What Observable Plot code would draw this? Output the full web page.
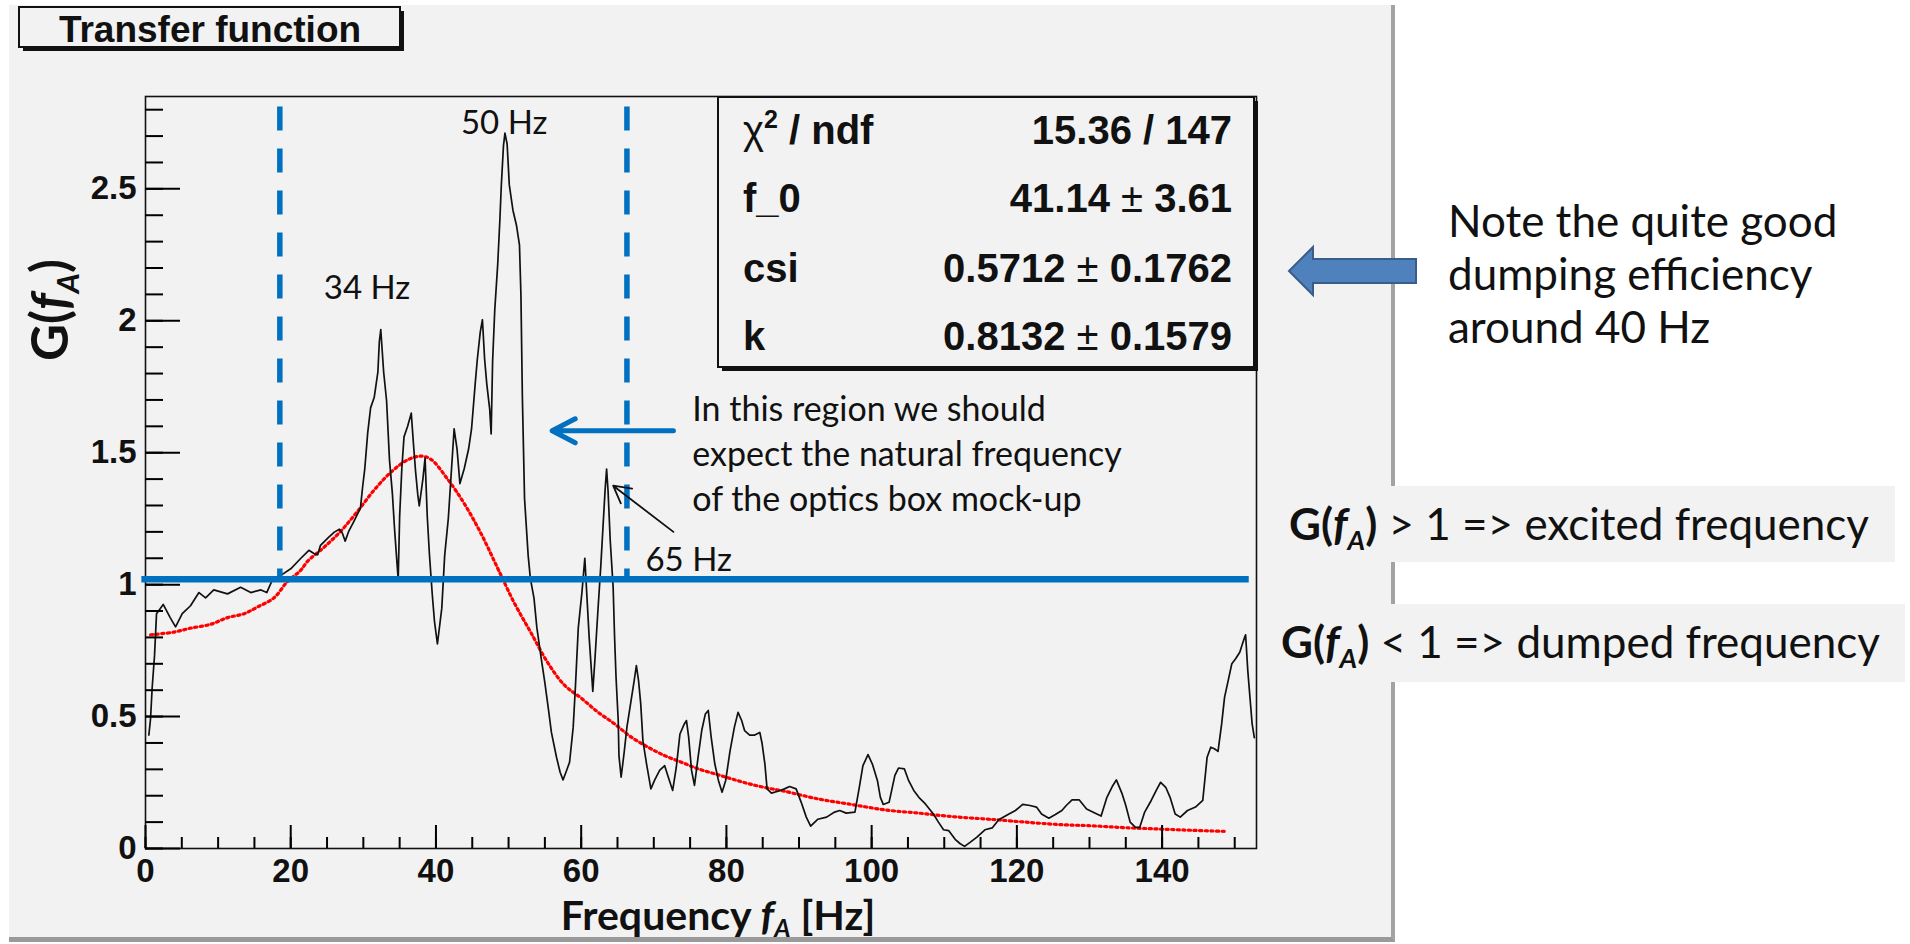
<!DOCTYPE html>
<html><head><meta charset="utf-8">
<script src="https://cdn.jsdelivr.net/npm/d3@7"></script>
<script src="https://cdn.jsdelivr.net/npm/@observablehq/plot@0.6"></script>
<style>
html,body{margin:0;padding:0;background:#fff;}
#wrap{position:relative;width:1910px;height:944px;overflow:hidden;background:#fff;}
#canvas{position:absolute;left:9px;top:5px;width:1382px;height:932px;background:#f2f2f2;border-right:4px solid #a3a3a3;border-bottom:5px solid #9a9a9a;}
#chart{position:absolute;left:0;top:0;}
#over{position:absolute;left:0;top:0;pointer-events:none;}
</style></head>
<body>
<div id="wrap"><div id="canvas"></div><div id="chart"></div><svg id="over" width="1910" height="944"></svg></div>
<script>
// ---- measured transfer function G(f_A) ----
const freq = [0.46,0.69,0.92,1.24,1.52,2.44,3.4,4.14,5.06,6.2,7.36,8.28,9.4,11.3,13.1,14.5,15.9,16.7,17.5,18.9,20.0,21.4,22.5,23.2,23.7,24.1,25.1,26.0,26.7,27.1,27.5,28.0,28.7,29.6,29.9,30.2,30.6,31.0,31.5,32.0,32.2,32.4,32.8,33.2,33.6,34.0,34.3,34.6,34.8,35.0,35.3,35.6,36.1,36.6,36.9,37.2,37.5,37.7,38.2,38.5,38.8,39.1,39.5,39.8,40.2,40.8,41.2,41.7,42.1,42.5,42.9,43.3,43.9,44.5,44.9,45.4,45.7,46.1,46.4,46.7,47.0,47.4,47.6,47.8,48.1,48.5,48.8,49.0,49.3,49.5,49.8,50.1,50.6,51.1,51.5,51.7,51.9,52.2,52.7,53.0,53.5,53.9,54.5,55.0,55.5,55.9,56.6,57.1,57.5,57.9,58.4,58.9,59.2,59.6,60.1,60.5,60.8,61.1,61.6,61.9,62.3,62.7,63.0,63.3,63.5,63.7,64.0,64.4,64.6,64.8,65.1,65.2,65.5,65.9,66.3,66.8,67.3,67.6,67.9,68.2,68.5,69.0,69.6,70.1,70.8,71.5,72.0,72.6,73.1,73.6,74.2,74.5,74.8,75.2,75.6,76.1,76.6,77.1,77.5,77.9,78.4,78.9,79.4,79.9,80.5,81.1,81.6,82.1,82.5,83.2,83.9,84.6,84.9,85.3,85.6,86.2,87.1,88.0,88.7,89.6,90.3,91.0,91.6,92.6,93.8,94.9,95.6,96.5,97.7,98.3,98.8,99.5,100.1,100.8,101.2,101.6,102.4,102.8,103.2,103.7,104.5,105.1,105.8,106.5,107.4,108.5,109.2,109.9,110.6,111.5,112.2,112.8,113.6,114.5,115.6,116.6,117.5,118.6,119.8,120.8,121.8,122.7,123.4,124.4,125.3,126.2,126.8,127.6,128.6,129.6,130.8,131.6,132.4,133.2,133.7,134.5,135.0,135.6,136.3,136.9,137.6,138.5,139.3,139.8,140.5,141.1,141.8,142.5,143.5,144.6,145.6,146.2,146.7,147.2,147.7,148.2,148.6,149.1,149.6,150.1,150.7,151.0,151.4,151.5,151.8,152.1,152.4,152.7];
const gain = [0.43,0.49,0.61,0.73,0.89,0.925,0.875,0.84,0.89,0.92,0.97,0.95,0.98,0.965,0.99,0.97,0.98,0.97,1.02,1.04,1.06,1.10,1.13,1.118,1.113,1.149,1.176,1.199,1.21,1.196,1.165,1.203,1.24,1.29,1.37,1.44,1.575,1.67,1.71,1.805,1.92,1.967,1.805,1.697,1.473,1.345,1.21,1.095,1.02,1.26,1.44,1.56,1.60,1.65,1.534,1.427,1.34,1.298,1.40,1.48,1.26,1.115,0.96,0.86,0.775,0.91,1.11,1.25,1.42,1.59,1.515,1.383,1.44,1.515,1.59,1.76,1.855,1.957,2.004,1.855,1.76,1.665,1.571,1.845,2.042,2.212,2.381,2.513,2.664,2.711,2.67,2.515,2.419,2.36,2.288,2.1,1.712,1.326,1.11,1.024,0.949,0.836,0.72,0.628,0.525,0.44,0.346,0.289,0.26,0.289,0.327,0.46,0.61,0.836,0.97,1.10,0.95,0.80,0.595,0.72,0.90,1.07,1.217,1.362,1.438,1.355,1.167,0.99,0.80,0.649,0.485,0.352,0.27,0.36,0.46,0.548,0.636,0.693,0.636,0.548,0.409,0.321,0.226,0.258,0.296,0.314,0.27,0.22,0.308,0.434,0.472,0.485,0.422,0.296,0.239,0.346,0.447,0.51,0.523,0.422,0.321,0.258,0.213,0.258,0.37,0.46,0.516,0.485,0.447,0.43,0.43,0.44,0.40,0.32,0.226,0.21,0.217,0.226,0.235,0.226,0.175,0.119,0.085,0.111,0.119,0.138,0.144,0.134,0.138,0.232,0.314,0.356,0.32,0.257,0.194,0.167,0.175,0.226,0.277,0.305,0.302,0.257,0.22,0.194,0.169,0.131,0.10,0.071,0.068,0.035,0.018,0.008,0.024,0.043,0.071,0.078,0.109,0.126,0.144,0.167,0.163,0.157,0.131,0.115,0.129,0.144,0.163,0.184,0.184,0.15,0.134,0.123,0.194,0.238,0.26,0.207,0.163,0.10,0.081,0.079,0.138,0.182,0.226,0.251,0.232,0.194,0.131,0.119,0.144,0.157,0.182,0.346,0.384,0.378,0.368,0.472,0.573,0.636,0.70,0.718,0.744,0.77,0.803,0.81,0.674,0.573,0.472,0.42];
// ---- fitted curve ----
const fitFreq = [0.7,3.9,6.2,9.0,11.3,13.6,15.4,17.7,19.5,21.4,22.3,24.6,26.9,29.2,31.5,33.8,36.1,37.9,39.3,41.6,43.9,46.2,48.5,50.8,53.1,55.4,57.7,60.0,62.3,64.6,66.9,69.2,71.5,73.8,76.1,78.4,80.7,83.0,85.5,88.0,92.6,97.2,101.9,106.5,111.0,115.6,117.6,121.1,125.7,130.3,134.9,139.5,144.1,148.7];
const fitGain = [0.81,0.82,0.835,0.85,0.875,0.89,0.915,0.95,1.01,1.055,1.088,1.142,1.203,1.278,1.359,1.426,1.473,1.487,1.475,1.40,1.307,1.194,1.062,0.93,0.817,0.704,0.619,0.57,0.517,0.472,0.422,0.384,0.352,0.327,0.302,0.283,0.264,0.246,0.23,0.217,0.188,0.167,0.146,0.134,0.121,0.112,0.108,0.10,0.091,0.086,0.079,0.074,0.069,0.065];
// ---- axes ----
const xMajor = [0,20,40,60,80,100,120,140];
const xMinor = [0,5,10,15,20,25,30,35,40,45,50,55,60,65,70,75,80,85,90,95,100,105,110,115,120,125,130,135,140,145,150];
const yMajor = [0,0.5,1,1.5,2,2.5];
const yLabels = ["0","0.5","1","1.5","2","2.5"];
const yMinor = [0,0.1,0.2,0.3,0.4,0.5,0.6,0.7,0.8,0.9,1,1.1,1.2,1.3,1.4,1.5,1.6,1.7,1.8,1.9,2,2.1,2.2,2.3,2.4,2.5,2.6,2.7,2.8];
// ---- annotations ----
const regionBounds = [18.5, 66.3];
const regionTop = 2.81;
const threshold = 1.02;
const peakLabels = [{f:30.5,g:2.083,text:"34 Hz"},{f:49.4,g:2.708,text:"50 Hz"},{f:74.8,g:1.053,text:"65 Hz"}];
const regionNote = [{f:75.3,g:1.28,text:"In this region we should\nexpect the natural frequency\nof the optics box mock-up"}];
const blueArrow = [{x1:72.7,y1:1.583,x2:56.0,y2:1.583}];
const blackArrow = [{x1:72.7,y1:1.20,x2:64.4,y2:1.375}];
const statsRows = [["χ","15.36 / 147"],["f_0","41.14","3.61"],["csi","0.5712","0.1762"],["k","0.8132","0.1579"]];

const data = freq.map((f,i)=>({f, g:gain[i]}));
const fit = fitFreq.map((f,i)=>({f, g:fitGain[i]}));

const plot = Plot.plot({
  width:1910, height:944,
  marginLeft:145, marginRight:654, marginTop:96, marginBottom:96,
  x:{domain:[0,153]}, y:{domain:[0,2.85]},
  style:{background:"transparent", fontFamily:"'Liberation Sans', Arial, sans-serif", overflow:"visible"},
  marks:[
    Plot.line(fit, {x:"f", y:"g", stroke:"#ff0000", strokeWidth:3.2, strokeDasharray:"2.2 3.4", curve:"catmull-rom"}),
    Plot.line(data, {x:"f", y:"g", stroke:"#111", strokeWidth:1.7}),
    Plot.frame({stroke:"#111", strokeWidth:1.6}),
    Plot.axisX({ticks:xMinor, tickSize:-11, tickFormat:()=>"", label:null, strokeWidth:2}),
    Plot.axisX({ticks:xMajor, tickSize:-23, tickFormat:()=>"", label:null, strokeWidth:2}),
    Plot.axisX({ticks:xMajor, tickSize:0, tickPadding:10, label:null, fontSize:33, fontWeight:"bold", fill:"#111"}),
    Plot.axisY({ticks:yMinor, tickSize:-18, tickFormat:()=>"", label:null, strokeWidth:2}),
    Plot.axisY({ticks:yMajor, tickSize:-35, tickFormat:()=>"", label:null, strokeWidth:2}),
    Plot.axisY({ticks:yMajor, tickSize:0, tickPadding:9, label:null, tickFormat:d=>yLabels[yMajor.indexOf(d)], fontSize:33, fontWeight:"bold", fill:"#111"}),
    Plot.ruleX(regionBounds, {x:d=>d, y1:regionTop, y2:threshold, stroke:"#0070C0", strokeWidth:5.5, strokeDasharray:"24 18"}),
    Plot.ruleY([threshold], {y:d=>d, x1:-0.5, x2:152, stroke:"#0070C0", strokeWidth:6.5}),
    Plot.arrow(blueArrow, {x1:"x1", y1:"y1", x2:"x2", y2:"y2", stroke:"#0070C0", strokeWidth:5, headLength:7.8, headAngle:55}),
    Plot.arrow(blackArrow, {x1:"x1", y1:"y1", x2:"x2", y2:"y2", stroke:"#111", strokeWidth:1.8, headLength:16, headAngle:58}),
    Plot.text(peakLabels, {x:"f", y:"g", text:"text", fontSize:33, fontFamily:"Lato", lineAnchor:"bottom", textAnchor:"middle", fill:"#111"}),
    Plot.text(regionNote, {x:"f", y:"g", text:"text", fontSize:34, fontFamily:"Lato", lineAnchor:"bottom", textAnchor:"start", lineHeight:45/34, fill:"#111"})
  ]
});
document.getElementById("chart").appendChild(plot);

// ---- overlay: title, stats box, axis titles, side notes ----
const svg = d3.select("#over");
function rich(x, y, parts, base, transform) {
  const t = svg.append("text").attr("x", x).attr("y", y).style("white-space","pre");
  if (transform) t.attr("transform", transform);
  for (const [k,v] of Object.entries(base)) t.attr(k, v);
  let shift = 0;
  for (const p of parts) {
    const ts = t.append("tspan").text(p.t);
    const s = p.shift || 0;
    if (s !== shift) { ts.attr("dy", s - shift); shift = s; }
    if (p.w) ts.attr("font-weight", p.w);
    if (p.i) ts.attr("font-style", "italic");
    if (p.size) ts.attr("font-size", p.size);
  }
  return t;
}
const ROOT = "'Liberation Sans', Arial, sans-serif";
// title box
svg.append("rect").attr("x",23).attr("y",11).attr("width",381).attr("height",40).attr("fill","#111");
svg.append("rect").attr("x",19).attr("y",7).attr("width",381).attr("height",40).attr("fill","#f2f2f2").attr("stroke","#111").attr("stroke-width",2);
svg.append("text").attr("x",210).attr("y",42).attr("text-anchor","middle").attr("font-family",ROOT).attr("font-weight","bold").attr("font-size",37).attr("fill","#111").text("Transfer function");
// stats box
svg.append("rect").attr("x",722).attr("y",101).attr("width",536).attr("height",270).attr("fill","#111");
svg.append("rect").attr("x",718).attr("y",97).attr("width",536).attr("height",270).attr("fill","#f2f2f2").attr("stroke","#111").attr("stroke-width",2);
const rowY = [144,212,282,350];
const sbase = {"font-family":ROOT, "font-weight":"bold", "font-size":40, fill:"#111"};
statsRows.forEach((r,i)=>{
  if (i===0) rich(743,rowY[i],[{t:"χ",w:"normal"},{t:"2",size:25,shift:-16},{t:" / ndf",shift:0}],sbase);
  else rich(743,rowY[i],[{t:r[0]}],sbase);
  const parts = r.length===2 ? [{t:r[1]}] : [{t:r[1]+" "},{t:"±",w:"normal"},{t:" "+r[2]}];
  rich(1232,rowY[i],parts,{...sbase,"text-anchor":"end"});
});
// axis titles
const CAL = "Lato, 'Open Sans', sans-serif";
rich(718,930,[{t:"Frequency "},{t:"f",i:true},{t:"A",i:true,size:25,shift:7},{t:" [Hz]",shift:0}],{"font-family":CAL,"font-weight":"bold","font-size":41,"text-anchor":"middle",fill:"#111"});
rich(0,0,[{t:"G("},{t:"f",i:true},{t:"A",i:true,size:31,shift:11},{t:")",shift:0}],{"font-family":CAL,"font-weight":"bold","font-size":51,"text-anchor":"middle",fill:"#111"},"translate(68,310) rotate(-90)");
// side note + block arrow
svg.append("polygon").attr("points","1289,271 1313,247 1313,259 1416,259 1416,283 1313,283 1313,295").attr("fill","#4F81BD").attr("stroke","#385D8A").attr("stroke-width",2);
const note = ["Note the quite good","dumping efficiency","around 40 Hz"];
note.forEach((s,i)=>svg.append("text").attr("x",1448).attr("y",237+i*53).attr("font-family",CAL).attr("font-size",44).attr("fill","#111").text(s));
// threshold boxes
svg.append("rect").attr("x",1268).attr("y",486).attr("width",627).attr("height",76).attr("fill","#f2f2f2");
svg.append("rect").attr("x",1262).attr("y",604).attr("width",643).attr("height",78).attr("fill","#f2f2f2");
const bb = {"font-family":CAL,"font-size":44,fill:"#111"};
rich(1289,540,[{t:"G(",w:"bold"},{t:"f",w:"bold",i:true},{t:"A",w:"bold",i:true,size:27,shift:10},{t:")",w:"bold",shift:0},{t:" > 1 => excited frequency"}],bb);
rich(1281,658,[{t:"G(",w:"bold"},{t:"f",w:"bold",i:true},{t:"A",w:"bold",i:true,size:27,shift:10},{t:")",w:"bold",shift:0},{t:" < 1 => dumped frequency"}],bb);
</script>
</body></html>
